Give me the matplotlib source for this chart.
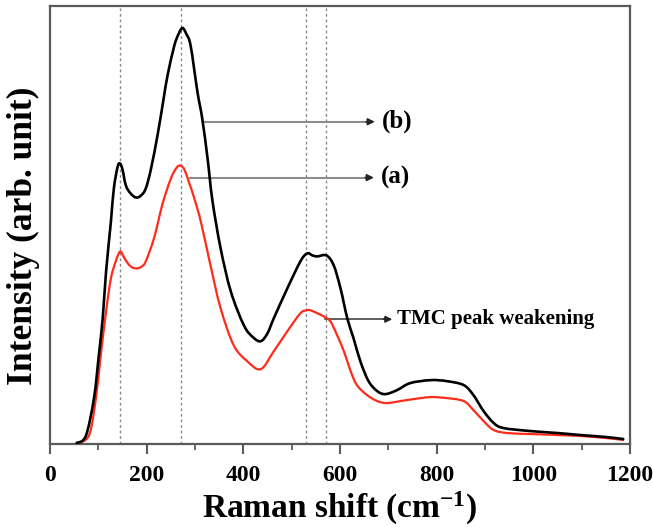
import matplotlib
matplotlib.use("Agg")
import matplotlib.pyplot as plt
import numpy as np
from matplotlib.path import Path
from matplotlib.patches import PathPatch
from matplotlib.ticker import MultipleLocator

# Raman spectra (arbitrary intensity units)
shift_b = [55, 74, 91, 101, 109, 116, 126, 132, 140, 145, 150, 157, 167, 178, 188, 198,
           209, 223, 235, 243, 257, 266, 274, 282, 291, 305, 315, 326, 336, 353, 374, 401,
           420, 436, 450, 463, 491, 518, 532, 543, 553, 572, 587, 601, 615, 628, 642, 659,
           677, 694, 718, 745, 787, 821, 856, 876, 897, 918, 938, 993, 1050, 1097, 1150, 1186]
intensity_b = [0, 7, 45, 88, 125, 172, 222, 255, 277, 280, 274, 258, 250, 246, 248, 255,
               275, 310, 345, 368, 398, 410, 416, 410, 398, 352, 325, 285, 243, 195, 152, 118,
               106, 102, 110, 125, 155, 182, 190, 188, 187, 188, 178, 155, 125, 105, 82, 62,
               52, 49, 53, 60, 63, 62, 58, 48, 32, 20, 15, 12, 10, 8, 6, 4]

shift_a = [58, 81, 95, 105, 116, 126, 136, 145, 152, 161, 170, 180, 190, 198, 215, 233,
           250, 262, 270, 278, 287, 298, 312, 332, 353, 380, 408, 436, 463, 491, 518, 531,
           539, 553, 566, 580, 594, 608, 622, 635, 656, 677, 697, 725, 752, 787, 821, 856,
           876, 897, 918, 946, 993, 1050, 1097, 1150, 1186]
intensity_a = [0, 8, 45, 88, 132, 165, 182, 192, 187, 180, 176, 175, 177, 182, 205, 240,
               265, 276, 278, 274, 262, 246, 222, 178, 135, 98, 82, 74, 92, 112, 130, 133,
               133, 130, 127, 122, 108, 92, 72, 58, 48, 42, 40, 42, 44, 46, 45, 42,
               33, 22, 13, 10, 9, 8, 7, 5, 3]

peak_positions = [145, 272, 530, 571]
x_ticks = [0, 200, 400, 600, 800, 1000, 1200]

plt.rcParams['font.family'] = ['Liberation Serif', 'DejaVu Serif']
plt.rcParams['font.weight'] = 'bold'
plt.rcParams['mathtext.fontset'] = 'custom'
plt.rcParams['mathtext.rm'] = 'Liberation Serif:bold'
plt.rcParams['mathtext.bf'] = 'Liberation Serif:bold'
plt.rcParams['mathtext.default'] = 'rm'


def smooth_path(xs, ys):
    """Cubic Bezier path through every point (Catmull-Rom tangents)."""
    p = np.column_stack([xs, ys]).astype(float)
    verts = [p[0]]
    codes = [Path.MOVETO]
    n = len(p)
    for i in range(n - 1):
        p0 = p[i - 1] if i > 0 else p[i]
        p1, p2 = p[i], p[i + 1]
        p3 = p[i + 2] if i + 2 < n else p[i + 1]
        c1 = p1 + (p2 - p0) / 6.0
        c2 = p2 - (p3 - p1) / 6.0
        verts += [c1, c2, p2]
        codes += [Path.CURVE4] * 3
    return Path(verts, codes)


fig = plt.figure(figsize=(6.53, 5.27), dpi=100)
ax = fig.add_axes([0.0766, 0.1575, 0.8882, 0.8311])

for xp in peak_positions:
    ax.axvline(xp, color='#8a8a8a', lw=1.0, ls=(0, (2, 2)), zorder=1)

ax.add_patch(PathPatch(smooth_path(shift_a, intensity_a), facecolor='none',
                       edgecolor='#ff2a1a', lw=1.6, zorder=3, capstyle='round',
                       joinstyle='round'))
ax.add_patch(PathPatch(smooth_path(shift_b, intensity_b), facecolor='none',
                       edgecolor='black', lw=1.9, zorder=4, capstyle='round',
                       joinstyle='round'))

ax.set_xlim(0, 1200)
ax.set_ylim(-1, 438)
ax.set_xticks(x_ticks)
ax.xaxis.set_minor_locator(MultipleLocator(100))
ax.set_yticks([])

for sp in ax.spines.values():
    sp.set_color('#5a5a5a')
    sp.set_linewidth(1.6)

ax.tick_params(axis='x', which='major', direction='out', length=7, width=1.5,
               color='#5a5a5a', labelsize=17, pad=8)
ax.tick_params(axis='x', which='minor', direction='out', length=4, width=1.3,
               color='#5a5a5a')
for lab in ax.get_xticklabels():
    lab.set_fontweight('bold')

ax.set_xlabel('Raman shift (cm$^{-1}$)', fontsize=24, fontweight='bold', labelpad=3)
fig.text(23 / 653, 1 - 236 / 527, 'Intensity (arb. unit)', fontsize=25.5,
         fontweight='bold', rotation=90, ha='center', va='center')


def pointer(x0, x1, y, label, size):
    ax.plot([x0, x1], [y, y], color='#8c8c8c', lw=1.5, zorder=2)
    ax.annotate('', xy=(x1 + 8, y), xytext=(x1 - 10, y),
                arrowprops=dict(arrowstyle='-|>', color='#222222', lw=1.2,
                                mutation_scale=10, shrinkA=0, shrinkB=0), zorder=5)
    ax.text(x1 + 22, y, label, fontsize=size, fontweight='bold',
            va='center', ha='left')


pointer(317, 664, 322, '(b)', 18)
pointer(290, 662, 266, '(a)', 18)

ax.plot([569, 700], [124, 124], color='#333333', lw=1.1, zorder=2)
ax.annotate('', xy=(708, 124), xytext=(690, 124),
            arrowprops=dict(arrowstyle='-|>', color='#222222', lw=1.1,
                            mutation_scale=10, shrinkA=0, shrinkB=0), zorder=5)
ax.text(718, 124, 'TMC peak weakening', fontsize=15, fontweight='bold',
        va='center', ha='left')

fig.savefig('out.png', dpi=100)
